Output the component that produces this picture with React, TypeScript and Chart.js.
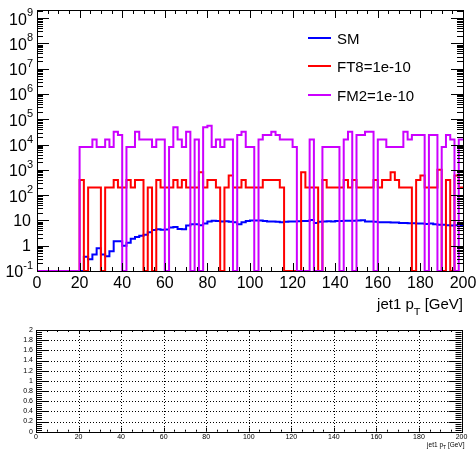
import React, { useEffect, useRef } from "react";
import { Chart, registerables } from "chart.js";

Chart.register(...registerables);

// ---------- data ----------
const BIN_LOW = [
  0, 2, 4, 6, 8, 10, 12, 14, 16, 18, 20, 22, 24, 26, 28, 30, 32, 34, 36, 38,
  40, 42, 44, 46, 48, 50, 52, 54, 56, 58, 60, 62, 64, 66, 68, 70, 72, 74, 76, 78,
  80, 82, 84, 86, 88, 90, 92, 94, 96, 98, 100, 102, 104, 106, 108, 110, 112, 114, 116, 118,
  120, 122, 124, 126, 128, 130, 132, 134, 136, 138, 140, 142, 144, 146, 148, 150, 152, 154, 156, 158,
  160, 162, 164, 166, 168, 170, 172, 174, 176, 178, 180, 182, 184, 186, 188, 190, 192, 194, 196, 198,
];
const X_MIN = 0;
const X_MAX = 200;

const SM = [
  0, 0, 0, 0, 0, 0, 0, 0, 0, 0,
  0, 0.37, 0.29, 0.45, 0.8, 0.45, 0.38, 0.6, 1.5, 1.5,
  1.0, 1.3, 1.9, 2.2, 2.5, 2.7, 3.4, 4.2, 4.5, 4.3,
  4.4, 5.2, 5.5, 4.6, 4.5, 6.3, 7.0, 7.0, 6.5, 7.5,
  9.0, 9.8, 9.5, 9.0, 9.2, 8.8, 8.5, 7.0, 8.5, 9.5,
  10, 10, 10, 9.5, 9.0, 9.0, 8.8, 8.5, 8.8, 9.0,
  9.0, 9.2, 9.5, 9.5, 10.5, 8.0, 8.8, 9.0, 9.2, 9.0,
  9.5, 9.5, 9.8, 9.8, 9.8, 10, 10.2, 9.0, 9.0, 8.8,
  8.5, 8.5, 8.5, 8.3, 8.3, 8.0, 8.0, 7.8, 7.8, 7.5,
  7.5, 7.3, 7.5, 7.0, 6.8, 6.8, 6.5, 6.3, 6.5, 6.2,
];

const FT8 = [
  0, 0, 0, 0, 0, 0, 0, 0, 0, 0,
  400, 0, 200, 200, 200, 0, 200, 200, 400, 200,
  200, 400, 200, 400, 400, 0, 200, 0, 400, 200,
  200, 200, 400, 200, 400, 200, 200, 200, 800, 200,
  400, 400, 200, 0, 200, 600, 200, 200, 400, 200,
  200, 200, 200, 400, 400, 400, 400, 200, 0, 0,
  0, 0, 800, 200, 200, 200, 0, 400, 200, 200,
  200, 200, 400, 200, 400, 200, 200, 200, 200, 400,
  200, 400, 400, 800, 400, 200, 200, 200, 0, 400,
  600, 200, 200, 200, 1000, 0, 400, 0, 600, 200,
];

const FM2 = [
  0, 0, 0, 0, 0, 0, 0, 0, 0, 0,
  8000, 8000, 8000, 16000, 8000, 8000, 16000, 8000, 32000, 24000,
  0, 8000, 8000, 32000, 16000, 16000, 16000, 8000, 16000, 16000,
  0, 8000, 48000, 16000, 8000, 32000, 0, 16000, 0, 48000,
  56000, 8000, 16000, 8000, 16000, 16000, 0, 24000, 32000, 8000,
  8000, 0, 16000, 24000, 24000, 32000, 24000, 16000, 16000, 16000,
  8000, 0, 0, 0, 16000, 0, 0, 8000, 8000, 8000,
  8000, 0, 16000, 32000, 0, 24000, 24000, 32000, 32000, 0,
  16000, 16000, 8000, 8000, 8000, 8000, 32000, 16000, 24000, 24000,
  24000, 0, 24000, 24000, 0, 8000, 24000, 16000, 0, 16000,
];

const SERIES_NAMES = ["SM", "FT8=1e-10", "FM2=1e-10"];
const SERIES_COLORS = ["#0000ff", "#ff0000", "#cc00ff"];

const Y_MIN = 0.1;
const Y_MAX = 2.1e9;
const Y_EXPONENTS = [-1, 0, 1, 2, 3, 4, 5, 6, 7, 8, 9];
const X_TICKS = [0, 20, 40, 60, 80, 100, 120, 140, 160, 180, 200];

const RATIO_MIN = 0;
const RATIO_MAX = 2;
const RATIO_TICKS = [0, 0.2, 0.4, 0.6, 0.8, 1, 1.2, 1.4, 1.6, 1.8, 2];
const RATIO_LABELS = ["0", "0.2", "0.4", "0.6", "0.8", "1", "1.2", "1.4", "1.6", "1.8", "2"];

const FONT = "'Liberation Sans', Arial, Helvetica, sans-serif";

function histPoints(vals: number[]) {
  const pts = BIN_LOW.map((x, i) => ({ x, y: vals[i] > 0 ? vals[i] : Y_MIN }));
  const last = vals[vals.length - 1];
  pts.push({ x: X_MAX, y: last > 0 ? last : Y_MIN });
  return pts;
}

function seg(ctx: CanvasRenderingContext2D, x1: number, y1: number, x2: number, y2: number) {
  ctx.beginPath();
  ctx.moveTo(x1, y1);
  ctx.lineTo(x2, y2);
  ctx.stroke();
}

const topPlugin = {
  id: "rootTop",
  afterDraw(chart: any) {
    const { ctx, chartArea: a, scales } = chart;
    const xs = scales.x;
    const ys = scales.y;
    ctx.save();
    ctx.strokeStyle = "#000";
    ctx.lineWidth = 1;
    ctx.strokeRect(Math.round(a.left) + 0.5, Math.round(a.top) + 0.5, Math.round(a.right - a.left), Math.round(a.bottom - a.top));

    for (let v = X_MIN; v <= X_MAX; v += 5) {
      const px = Math.round(xs.getPixelForValue(v)) + 0.5;
      const len = v % 20 === 0 ? 8 : 4;
      seg(ctx, px, a.bottom, px, a.bottom - len);
      seg(ctx, px, a.top, px, a.top + len);
    }
    for (const e of Y_EXPONENTS) {
      for (let m = 1; m <= 9; m++) {
        const v = m * Math.pow(10, e);
        if (v < Y_MIN || v > Y_MAX) continue;
        const py = Math.round(ys.getPixelForValue(v)) + 0.5;
        const len = m === 1 ? 12 : 6;
        seg(ctx, a.left, py, a.left + len, py);
        seg(ctx, a.right, py, a.right - len, py);
      }
    }

    ctx.fillStyle = "#000";
    ctx.textBaseline = "middle";
    for (const e of Y_EXPONENTS) {
      const py = ys.getPixelForValue(Math.pow(10, e));
      if (e === 0 || e === 1) {
        ctx.font = `16px ${FONT}`;
        ctx.textAlign = "right";
        ctx.fillText(e === 0 ? "1" : "10", a.left - 6, py + 1);
      } else {
        const sup = String(e);
        ctx.font = `11px ${FONT}`;
        ctx.textAlign = "right";
        const sw = ctx.measureText(sup).width;
        ctx.fillText(sup, a.left - 4, py - 5);
        ctx.font = `16px ${FONT}`;
        ctx.fillText("10", a.left - 4 - sw, py + 2);
      }
    }

    ctx.font = `16px ${FONT}`;
    ctx.textAlign = "center";
    ctx.textBaseline = "middle";
    for (const v of X_TICKS) {
      ctx.fillText(String(v), xs.getPixelForValue(v), a.bottom + 13);
    }

    ctx.textBaseline = "alphabetic";
    ctx.textAlign = "left";
    ctx.font = `15px ${FONT}`;
    const t1 = "jet1 p";
    const t3 = " [GeV]";
    const w1 = ctx.measureText(t1).width;
    const w3 = ctx.measureText(t3).width;
    ctx.font = `11px ${FONT}`;
    const w2 = ctx.measureText("T").width;
    const x0 = a.right - (w1 + w2 + w3);
    const by = a.bottom + 38;
    ctx.font = `15px ${FONT}`;
    ctx.fillText(t1, x0, by);
    ctx.fillText(t3, x0 + w1 + w2, by);
    ctx.font = `11px ${FONT}`;
    ctx.fillText("T", x0 + w1, by + 7);

    const legY = [38, 66, 95];
    ctx.font = `15px ${FONT}`;
    ctx.textBaseline = "middle";
    ctx.textAlign = "left";
    SERIES_NAMES.forEach((name, i) => {
      ctx.strokeStyle = SERIES_COLORS[i];
      ctx.lineWidth = 2;
      seg(ctx, 308, legY[i], 331, legY[i]);
      ctx.fillStyle = "#000";
      ctx.fillText(name, 337, legY[i] + 1.5);
    });
    ctx.restore();
  },
};

const bottomPlugin = {
  id: "rootBottom",
  afterDraw(chart: any) {
    const { ctx, chartArea: a, scales } = chart;
    const xs = scales.x;
    const ys = scales.y;
    ctx.save();
    ctx.strokeStyle = "#000";
    ctx.lineWidth = 1;
    ctx.setLineDash([1, 2]);
    for (const v of X_TICKS) {
      if (v === X_MIN || v === X_MAX) continue;
      const px = Math.round(xs.getPixelForValue(v)) + 0.5;
      seg(ctx, px, a.top, px, a.bottom);
    }
    for (const v of RATIO_TICKS) {
      if (v === RATIO_MIN || v === RATIO_MAX) continue;
      const py = Math.round(ys.getPixelForValue(v)) + 0.5;
      seg(ctx, a.left, py, a.right, py);
    }
    ctx.setLineDash([]);
    ctx.strokeRect(Math.round(a.left) + 0.5, Math.round(a.top) + 0.5, Math.round(a.right - a.left), Math.round(a.bottom - a.top));

    for (let k = 0; k <= 50; k++) {
      const v = RATIO_MIN + (k * (RATIO_MAX - RATIO_MIN)) / 50;
      const py = Math.round(ys.getPixelForValue(v)) + 0.5;
      const len = k % 5 === 0 ? 13 : 6;
      seg(ctx, a.left, py, a.left + len, py);
      seg(ctx, a.right, py, a.right - len, py);
    }
    for (let v = X_MIN; v <= X_MAX; v += 5) {
      const px = Math.round(xs.getPixelForValue(v)) + 0.5;
      const len = v % 20 === 0 ? 4 : 2;
      seg(ctx, px, a.bottom, px, a.bottom - len);
      seg(ctx, px, a.top, px, a.top + len);
    }

    ctx.fillStyle = "#000";
    ctx.font = `7px ${FONT}`;
    ctx.textBaseline = "middle";
    ctx.textAlign = "right";
    for (let i = 0; i < RATIO_TICKS.length; i++) {
      ctx.fillText(RATIO_LABELS[i], a.left - 3, ys.getPixelForValue(RATIO_TICKS[i]));
    }
    ctx.textAlign = "center";
    for (const v of X_TICKS) {
      ctx.fillText(String(v), xs.getPixelForValue(v), a.bottom + 5);
    }
    ctx.textAlign = "left";
    ctx.textBaseline = "alphabetic";
    ctx.font = `6.5px ${FONT}`;
    const w1 = ctx.measureText("jet1 p").width;
    const w3 = ctx.measureText(" [GeV]").width;
    ctx.font = `5px ${FONT}`;
    const w2 = ctx.measureText("T").width;
    const x0 = a.right + 3 - (w1 + w2 + w3);
    const by = a.bottom + 15;
    ctx.font = `6.5px ${FONT}`;
    ctx.fillText("jet1 p", x0, by);
    ctx.fillText(" [GeV]", x0 + w1 + w2, by);
    ctx.font = `5px ${FONT}`;
    ctx.fillText("T", x0 + w1, by + 2);
    ctx.restore();
  },
};

export default function App() {
  const topRef = useRef<HTMLCanvasElement>(null);
  const botRef = useRef<HTMLCanvasElement>(null);

  useEffect(() => {
    const seriesVals = [FM2, FT8, SM];
    const seriesIdx = [2, 1, 0];
    const top = new Chart(topRef.current!, {
      type: "line",
      data: {
        datasets: seriesVals.map((vals, j) => ({
          label: SERIES_NAMES[seriesIdx[j]],
          data: histPoints(vals),
          borderColor: SERIES_COLORS[seriesIdx[j]],
          backgroundColor: SERIES_COLORS[seriesIdx[j]],
          borderWidth: 2,
          pointRadius: 0,
          stepped: true,
          fill: false,
          tension: 0,
        })),
      },
      options: {
        animation: false,
        responsive: false,
        devicePixelRatio: 1,
        layout: { padding: { left: 37, right: 13, top: 10, bottom: 44 } },
        plugins: { legend: { display: false }, tooltip: { enabled: false }, title: { display: false } },
        scales: {
          x: { type: "linear", min: X_MIN, max: X_MAX, display: false },
          y: { type: "logarithmic", min: Y_MIN, max: Y_MAX, display: false },
        },
      },
      plugins: [topPlugin],
    } as any);

    const bot = new Chart(botRef.current!, {
      type: "line",
      data: { datasets: [] },
      options: {
        animation: false,
        responsive: false,
        devicePixelRatio: 1,
        layout: { padding: { left: 36, right: 14.5, top: 15, bottom: 18.3 } },
        plugins: { legend: { display: false }, tooltip: { enabled: false } },
        scales: {
          x: { type: "linear", min: X_MIN, max: X_MAX, display: false },
          y: { type: "linear", min: RATIO_MIN, max: RATIO_MAX, display: false },
        },
      },
      plugins: [bottomPlugin],
    } as any);

    return () => {
      top.destroy();
      bot.destroy();
    };
  }, []);

  return (
    <div style={{ position: "absolute", left: 0, top: 0, width: 476, height: 450, background: "#fff" }}>
      <canvas ref={topRef} width={476} height={315} style={{ position: "absolute", left: 0, top: 0 }} />
      <canvas ref={botRef} width={476} height={135} style={{ position: "absolute", left: 0, top: 315 }} />
    </div>
  );
}
